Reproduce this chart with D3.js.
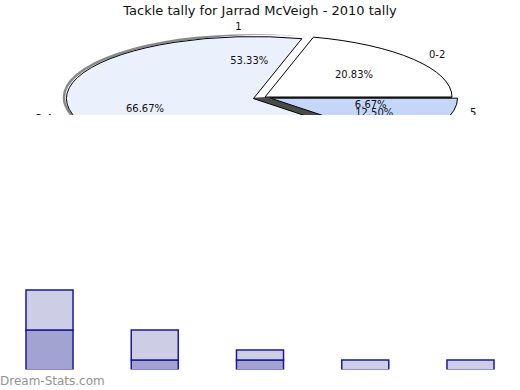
<!DOCTYPE html>
<html>
<head>
<meta charset="utf-8">
<script src="https://cdn.jsdelivr.net/npm/d3@7"></script>
<style>
  body { margin: 0; background: #fff; }
  svg { display: block; font-family: "DejaVu Sans", sans-serif; }
</style>
</head>
<body>
<svg id="chart" width="520" height="390"></svg>
<script>
// front pie
const pieALabels = ['0-2', '3-4', '5+'];
const pieAValues = [20.83, 66.67, 12.50];
const pieAColors = ['#ffffff', '#eaf0fc', '#c4d7f8'];
const pieAExplode = [0, 12, 6];

// pie drawn underneath (only its labels really show)
const pieBLabels = ['1', '2-4', '5'];
const pieBValues = [53.33, 40.00, 6.67];
const pieBColors = ['#ffffff', '#4a4a4a', '#3a3a3a'];

// bars
const categories = ['0-2', '3-5', '6-8', '9-11', '12+'];
const lowerValues = [4, 1, 1, 0, 0];
const upperValues = [4, 3, 1, 1, 1];

const svg = d3.select('#chart');
const W = 520, H = 390;

svg.append('text')
    .attr('x', W / 2)
    .attr('y', 15)
    .attr('text-anchor', 'middle')
    .attr('font-size', 13)
    .attr('fill', '#111')
    .text('Tackle tally for Jarrad McVeigh - 2010 tally');

const defs = svg.append('defs');
defs.append('clipPath').attr('id', 'pieClip')
    .append('rect').attr('x', 0).attr('y', 0).attr('width', W).attr('height', 115);
defs.append('clipPath').attr('id', 'barClip')
    .append('rect').attr('x', 0).attr('y', 0).attr('width', W).attr('height', 369.5);

// pie geometry
const cx = 265, cy = 97, rx = 187, ry = 62;
const sy = ry / rx;

const pie = d3.pie().sort(null).startAngle(Math.PI / 2).endAngle(Math.PI / 2 - 2 * Math.PI);
const arc = d3.arc().innerRadius(0).outerRadius(rx);

function mid(d) { return (d.startAngle + d.endAngle) / 2; }
function offset(d, dist) {
    const a = mid(d);
    return [Math.sin(a) * dist, -Math.cos(a) * dist * 0.5];
}
function labelPos(c, d, k, off) {
    const a = mid(d);
    return [c[0] + off[0] + Math.sin(a) * rx * k, c[1] + off[1] - Math.cos(a) * ry * k];
}

const pieG = svg.append('g').attr('clip-path', 'url(#pieClip)');

const arcsA = pie(pieAValues);
const arcsB = pie(pieBValues);

// shadow outline of the exploded slice
const bigOff = offset(arcsA[1], pieAExplode[1]);
pieG.append('ellipse')
    .attr('cx', cx + bigOff[0] - 2.5)
    .attr('cy', cy + bigOff[1] - 1)
    .attr('rx', rx)
    .attr('ry', ry)
    .attr('fill', 'none')
    .attr('stroke', '#8a8a8a')
    .attr('stroke-width', 2.5);

// back pie
pieG.append('g')
    .attr('transform', `translate(${cx},${cy}) scale(1,${sy})`)
    .selectAll('path')
    .data(arcsB)
    .join('path')
    .attr('d', arc)
    .attr('fill', (d, i) => pieBColors[i]);

// front pie
pieG.append('g')
    .selectAll('path')
    .data(arcsA)
    .join('path')
    .attr('transform', (d, i) => {
        const o = offset(d, pieAExplode[i]);
        return `translate(${cx + o[0]},${cy + o[1]}) scale(1,${sy})`;
    })
    .attr('d', arc)
    .attr('fill', (d, i) => pieAColors[i])
    .attr('stroke', '#000')
    .attr('stroke-width', 1)
    .attr('vector-effect', 'non-scaling-stroke');

// labels
function addLabels(c, arcs, labels, explode) {
    arcs.forEach((d, i) => {
        const o = explode ? offset(d, explode[i]) : [0, 0];
        const p = labelPos(c, d, 0.6, o);
        pieG.append('text')
            .attr('x', p[0]).attr('y', p[1])
            .attr('text-anchor', 'middle')
            .attr('dominant-baseline', 'central')
            .attr('font-size', 10)
            .attr('fill', '#111')
            .text(d3.format('.2f')(d.data) + '%');
        const q = labelPos(c, d, 1.16, o);
        pieG.append('text')
            .attr('x', q[0]).attr('y', q[1] + 1)
            .attr('text-anchor', 'middle')
            .attr('dominant-baseline', 'central')
            .attr('font-size', 10)
            .attr('fill', '#111')
            .text(labels[i]);
    });
}
addLabels([cx, cy], arcsA, pieALabels, pieAExplode);
addLabels([cx - 4, cy], arcsB, pieBLabels, null);

// bar chart
const x = d3.scaleBand()
    .domain(categories)
    .range([0, W])
    .paddingInner(0.553)
    .paddingOuter(0.247);

const y = d3.scaleLinear()
    .domain([0, 10])
    .range([370, 270]);

const barG = svg.append('g').attr('clip-path', 'url(#barClip)');

const stacked = d3.stack().keys(['lower', 'upper'])(
    categories.map((c, i) => ({ cat: c, lower: lowerValues[i], upper: upperValues[i] }))
);
const barColors = ['#a3a3d1', '#cdcde5'];

barG.selectAll('g.series')
    .data(stacked)
    .join('g')
    .attr('class', 'series')
    .attr('fill', (d, i) => barColors[i])
    .selectAll('rect')
    .data(d => d)
    .join('rect')
    .attr('x', d => x(d.data.cat))
    .attr('y', d => y(d[1]))
    .attr('width', x.bandwidth())
    .attr('height', d => y(d[0]) - y(d[1]))
    .attr('stroke', '#1a1a99')
    .attr('stroke-width', 1.5);

svg.append('text')
    .attr('x', 0)
    .attr('y', 385)
    .attr('font-size', 12)
    .attr('fill', '#939393')
    .text('Dream-Stats.com');
</script>
</body>
</html>
